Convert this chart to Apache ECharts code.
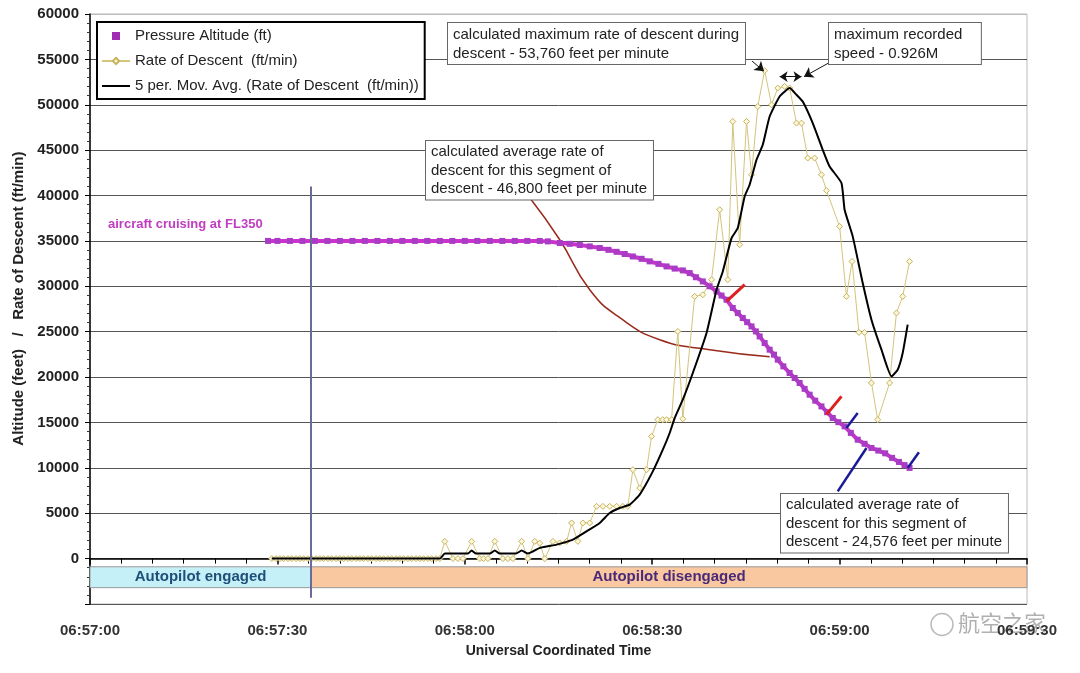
<!DOCTYPE html>
<html><head><meta charset="utf-8">
<script src="https://cdn.jsdelivr.net/npm/echarts@6/dist/echarts.min.js"></script>
<style>html,body{margin:0;padding:0;background:#fff}#c{width:1080px;height:673px}</style>
</head><body><div id="c"></div>
<script>
// Time in seconds after 06:57:00
const xTickLabels = ['06:57:00','06:57:30','06:58:00','06:58:30','06:59:00','06:59:30'];

const altTime = [28.5,30,32,34,36,38,40,42,44,46,48,50,52,54,56,58,60,62,64,66,68,70,72,
  73.3,75.2,76.8,78.4,80.0,81.6,83.0,84.3,85.6,86.9,88.3,89.6,91.0,92.3,93.6,94.9,96.0,97.0,98.1,99.2,100.3,101.1,101.9,102.9,103.7,104.5,105.2,105.9,106.6,107.2,108.0,108.8,109.5,110.1,111.0,112.0,112.8,113.6,114.4,115.2,116.1,117.1,118.0,118.9,119.8,120.8,121.8,122.9,124.0,125.1,126.2,127.3,128.4,129.5,130.4,131.2];
const altValue = [35000,35000,35000,35000,35000,35000,35000,35000,35000,35000,35000,35000,35000,35000,35000,35000,35000,35000,35000,35000,35000,35000,35000,
  34950,34770,34680,34550,34400,34220,34020,33800,33560,33290,33030,32750,32470,32190,31950,31750,31460,31000,30540,30000,29440,28980,28520,27610,27050,26510,26050,25580,25030,24480,23750,23020,22470,21920,21180,20450,19900,19350,18700,18060,17400,16770,16130,15490,15030,14570,13850,13100,12650,12190,11900,11600,11100,10650,10300,9990];

const rodTime = [29.1,29.8,30.4,31.0,31.7,32.3,33.0,33.6,34.2,34.9,35.5,36.2,36.8,37.4,38.1,38.7,39.4,40.0,40.6,41.3,41.9,42.6,43.2,43.8,44.5,45.1,45.8,46.4,47.0,47.7,48.3,49.0,49.6,50.2,50.9,51.5,52.2,52.8,53.4,54.1,54.7,55.4,56.0,
  56.8,58.1,58.9,59.7,61.1,62.4,63.0,63.7,64.8,66.1,66.9,67.7,69.1,70.1,71.2,72.0,72.8,74.1,75.2,76.3,77.1,78.1,78.9,80.0,81.1,82.1,83.2,84.3,85.3,86.1,86.9,88.0,89.1,89.9,90.9,91.7,92.3,93.1,94.1,94.9,96.8,98.1,99.5,100.8,102.1,102.9,104.0,105.1,105.9,106.9,108.0,109.1,110.1,111.2,112.0,113.1,113.9,114.9,116.0,117.1,117.9,120.0,121.1,122.0,123.1,124.0,125.1,126.1,128.0,129.1,130.1,131.2];
const rodValue = [0,0,0,0,0,0,0,0,0,0,0,0,0,0,0,0,0,0,0,0,0,0,0,0,0,0,0,0,0,0,0,0,0,0,0,0,0,0,0,0,0,0,0,
  1900,0,0,0,1900,0,0,0,1900,0,0,0,1900,0,1900,1700,0,1900,1730,1900,3930,1900,3930,3930,5760,5760,5760,5760,5760,5760,9800,7780,9800,13470,15310,15310,15310,15310,25030,15400,28890,29070,30730,38440,30730,48160,34580,48160,42290,49810,53760,50000,51840,52020,51840,47980,47980,44130,44130,42290,40550,36600,28890,32740,24920,24920,19350,15310,19350,27060,28890,32740];

const avgTime = [29.1,56.0,56.8,60.5,61.1,61.8,64.0,64.8,65.6,68.2,69.1,70.1,72.0,73.3,74.7,75.7,77.3,79.5,81.6,83.2,84.8,86.4,88.0,90.1,91.7,92.8,93.6,94.9,96.5,98.7,100.3,101.3,102.7,103.7,104.8,105.6,106.7,107.7,108.8,110.4,112.0,113.1,114.1,115.7,117.3,118.4,120.3,120.8,122.1,123.7,125.1,126.7,128.3,129.3,130.1,130.9];
const avgValue = [0,0,550,550,900,550,550,900,550,550,900,550,1180,1360,1540,1730,2090,3010,3930,5030,5580,5950,7050,9610,12000,13840,15490,17510,20450,24860,29620,31640,35310,36420,39900,41190,43940,45590,48710,50910,51840,51100,50360,47980,45040,43200,41380,38440,35500,30360,26320,23020,20080,20810,22650,25770];

// annotation anchors (data units: seconds, feet)
const autopilotOff = 35.4;
const bandTop = -900, bandBottom = -3200;
const pointerCurve = [[70.4,39760],[75.2,35130],[80,29620],[84.8,26540],[91.2,24120],[99.2,23020],[108.8,22250]];

const zip = (t, v) => t.map((x, i) => [x, v[i]]);
const pad = n => (n < 10 ? '0' : '') + n;
const fmt = s => { const t = 57 * 60 + Math.round(s); return '06:' + pad(Math.floor(t / 60)) + ':' + pad(t % 60); };

const FONT = "'Liberation Sans', Arial, sans-serif";
const chart = echarts.init(document.getElementById('c'), null, {renderer: 'canvas'});

const boxStyle = (text, lh) => ({
  text, font: '15px ' + FONT, fill: '#222', backgroundColor: '#fff',
  borderColor: '#666', borderWidth: 1, padding: [2, 6, 1, 5], lineHeight: lh
});

chart.setOption({
  animation: false,
  backgroundColor: '#fff',
  grid: {left: 90, right: 53, top: 14, bottom: 69, show: true, borderColor: '#bbb', borderWidth: 1},
  xAxis: {
    type: 'value', min: 0, max: 150, interval: 30,
    name: 'Universal Coordinated Time', nameLocation: 'middle', nameGap: 40,
    nameTextStyle: {fontFamily: FONT, fontWeight: 'bold', fontSize: 14, color: '#222'},
    axisLine: {lineStyle: {color: '#000', width: 1.5}},
    axisTick: {length: 6, lineStyle: {color: '#000', width: 1.5}},
    minorTick: {show: true, splitNumber: 6, length: 5, lineStyle: {color: '#000'}},
    splitLine: {show: false},
    axisLabel: {formatter: v => xTickLabels[Math.round(v / 30)] || fmt(v), margin: 19,
      fontFamily: FONT, fontWeight: 'bold', fontSize: 15, color: '#333'}
  },
  yAxis: {
    type: 'value', min: -5000, max: 60000, interval: 5000,
    name: '     Altitude (feet)   /   Rate of Descent (ft/min)', nameLocation: 'middle', nameGap: 63,
    nameTextStyle: {fontFamily: FONT, fontWeight: 'bold', fontSize: 15, color: '#222'},
    axisLine: {show: true, lineStyle: {color: '#000', width: 1.5}},
    axisTick: {show: true, length: 5, lineStyle: {color: '#000'}},
    minorTick: {show: true, splitNumber: 5, length: 3, lineStyle: {color: '#333'}},
    splitLine: {show: true, lineStyle: {color: ['#555','#555','#555','#555','#555','#555','#555','#555','#555','#555','#555','#555','#555','#bbb'], width: 1}},
    axisLabel: {formatter: v => v < 0 ? '' : String(v), margin: 11,
      fontFamily: FONT, fontWeight: 'bold', fontSize: 15, color: '#222'}
  },
  legend: {
    left: 97, top: 22, orient: 'vertical', selectedMode: false,
    backgroundColor: '#fff', borderColor: '#000', borderWidth: 2,
    padding: [6, 6, 5, 4], itemGap: 9, itemWidth: 28, itemHeight: 8,
    textStyle: {fontFamily: FONT, fontSize: 15, lineHeight: 16, color: '#222'},
    data: [
      {name: 'Pressure Altitude (ft)', icon: 'path://M0,0h10v10h-10z', itemStyle: {color: '#a02cb4'}},
      {name: 'Rate of Descent  (ft/min)'},
      {name: '5 per. Mov. Avg. (Rate of Descent  (ft/min))', icon: 'path://M0,0h28v2h-28z', itemStyle: {color: '#000'}}
    ]
  },
  series: [
    {
      name: 'annotations', type: 'line', data: pointerCurve, smooth: 0.5, showSymbol: false, silent: true,
      lineStyle: {color: '#9a2a1c', width: 1.5}, z: 1,
      markArea: {
        silent: true,
        data: [
          [{xAxis: 0, yAxis: bandTop, itemStyle: {color: '#c6f0f8', borderColor: '#999', borderWidth: 1},
            label: {show: true, position: 'inside', formatter: 'Autopilot engaged', color: '#1f4f78', fontFamily: FONT, fontWeight: 'bold', fontSize: 15}},
           {xAxis: autopilotOff, yAxis: bandBottom}],
          [{xAxis: autopilotOff, yAxis: bandTop, itemStyle: {color: '#f9c8a0', borderColor: '#999', borderWidth: 1},
            label: {show: true, position: 'inside', formatter: 'Autopilot disengaged', color: '#4a2a78', fontFamily: FONT, fontWeight: 'bold', fontSize: 15}},
           {xAxis: 150, yAxis: bandBottom}]
        ]
      },
      markLine: {
        silent: true, symbol: 'none', label: {show: false}, animation: false,
        data: [
          [{coord: [autopilotOff, 41000], lineStyle: {color: '#6b6b9b', width: 2, type: 'solid'}}, {coord: [autopilotOff, -4300]}],
          [{coord: [101.9, 28340], lineStyle: {color: '#dd2020', width: 3, type: 'solid'}}, {coord: [104.8, 30180]}],
          [{coord: [117.9, 15860], lineStyle: {color: '#dd2020', width: 3, type: 'solid'}}, {coord: [120.3, 17870]}],
          [{coord: [121.1, 14390], lineStyle: {color: '#1a1a99', width: 2.5, type: 'solid'}}, {coord: [122.9, 16050]}],
          [{coord: [130.9, 9990], lineStyle: {color: '#1a1a99', width: 2.5, type: 'solid'}}, {coord: [132.7, 11710]}],
          [{coord: [119.7, 7410], lineStyle: {color: '#1a1a99', width: 2.5, type: 'solid'}}, {coord: [124.3, 12190]}],
          [{coord: [106.0, 54800], symbol: 'none', lineStyle: {color: '#111', width: 1, type: 'solid'}}, {coord: [107.9, 53700], symbol: 'arrow', symbolSize: 9}],
          [{coord: [110.4, 53100], symbol: 'arrow', symbolSize: 8, lineStyle: {color: '#111', width: 1, type: 'solid'}}, {coord: [113.9, 53100], symbol: 'arrow', symbolSize: 8}],
          [{coord: [118.5, 54700], symbol: 'none', lineStyle: {color: '#111', width: 1, type: 'solid'}}, {coord: [114.3, 53100], symbol: 'arrow', symbolSize: 9}]
        ]
      }
    },
    {
      name: 'Pressure Altitude (ft)', type: 'line', data: zip(altTime, altValue),
      symbol: 'rect', symbolSize: 6, showAllSymbol: true,
      lineStyle: {color: '#cc33cc', width: 4}, itemStyle: {color: '#a83cc4'}, z: 3
    },
    {
      name: 'Rate of Descent  (ft/min)', type: 'line', data: zip(rodTime, rodValue),
      symbol: 'diamond', symbolSize: 6, showAllSymbol: true,
      lineStyle: {color: '#d4c47c', width: 1}, itemStyle: {color: '#fbf6dc', borderColor: '#c8b45c', borderWidth: 1}, z: 2
    },
    {
      name: '5 per. Mov. Avg. (Rate of Descent  (ft/min))', type: 'line', data: zip(avgTime, avgValue),
      symbol: 'none', smooth: 0.15, lineStyle: {color: '#000', width: 2}, itemStyle: {color: '#000'}, z: 4
    }
  ],
  graphic: [
    {type: 'text', left: 447, top: 22, z: 100, style: boxStyle('calculated maximum rate of descent during\ndescent - 53,760 feet per minute', 19)},
    {type: 'text', left: 828, top: 22, z: 100, style: boxStyle('maximum recorded   \nspeed - 0.926M', 19)},
    {type: 'text', left: 425, top: 140, z: 100, style: boxStyle('calculated average rate of\ndescent for this segment of\ndescent - 46,800 feet per minute', 18.5)},
    {type: 'text', left: 780, top: 493, z: 100, style: boxStyle('calculated average rate of\ndescent for this segment of\ndescent - 24,576 feet per minute', 18.5)},
    {type: 'text', left: 108, top: 218, z: 100, style: {text: 'aircraft cruising at FL350', font: 'bold 13px ' + FONT, fill: '#c03cc0'}},
    {type: 'group', right: 34, top: 611, z: 100, children: [
      {type: 'circle', shape: {cx: 12, cy: 15, r: 11}, style: {fill: 'none', stroke: '#aaa', lineWidth: 1.5, opacity: 0.8}},
      {type: 'text', left: 28, top: 2, style: {text: '航空之家', font: '22px "Noto Sans CJK SC", sans-serif', fill: 'rgba(150,150,150,0.75)'}}
    ]}
  ]
});
</script>
</body></html>
